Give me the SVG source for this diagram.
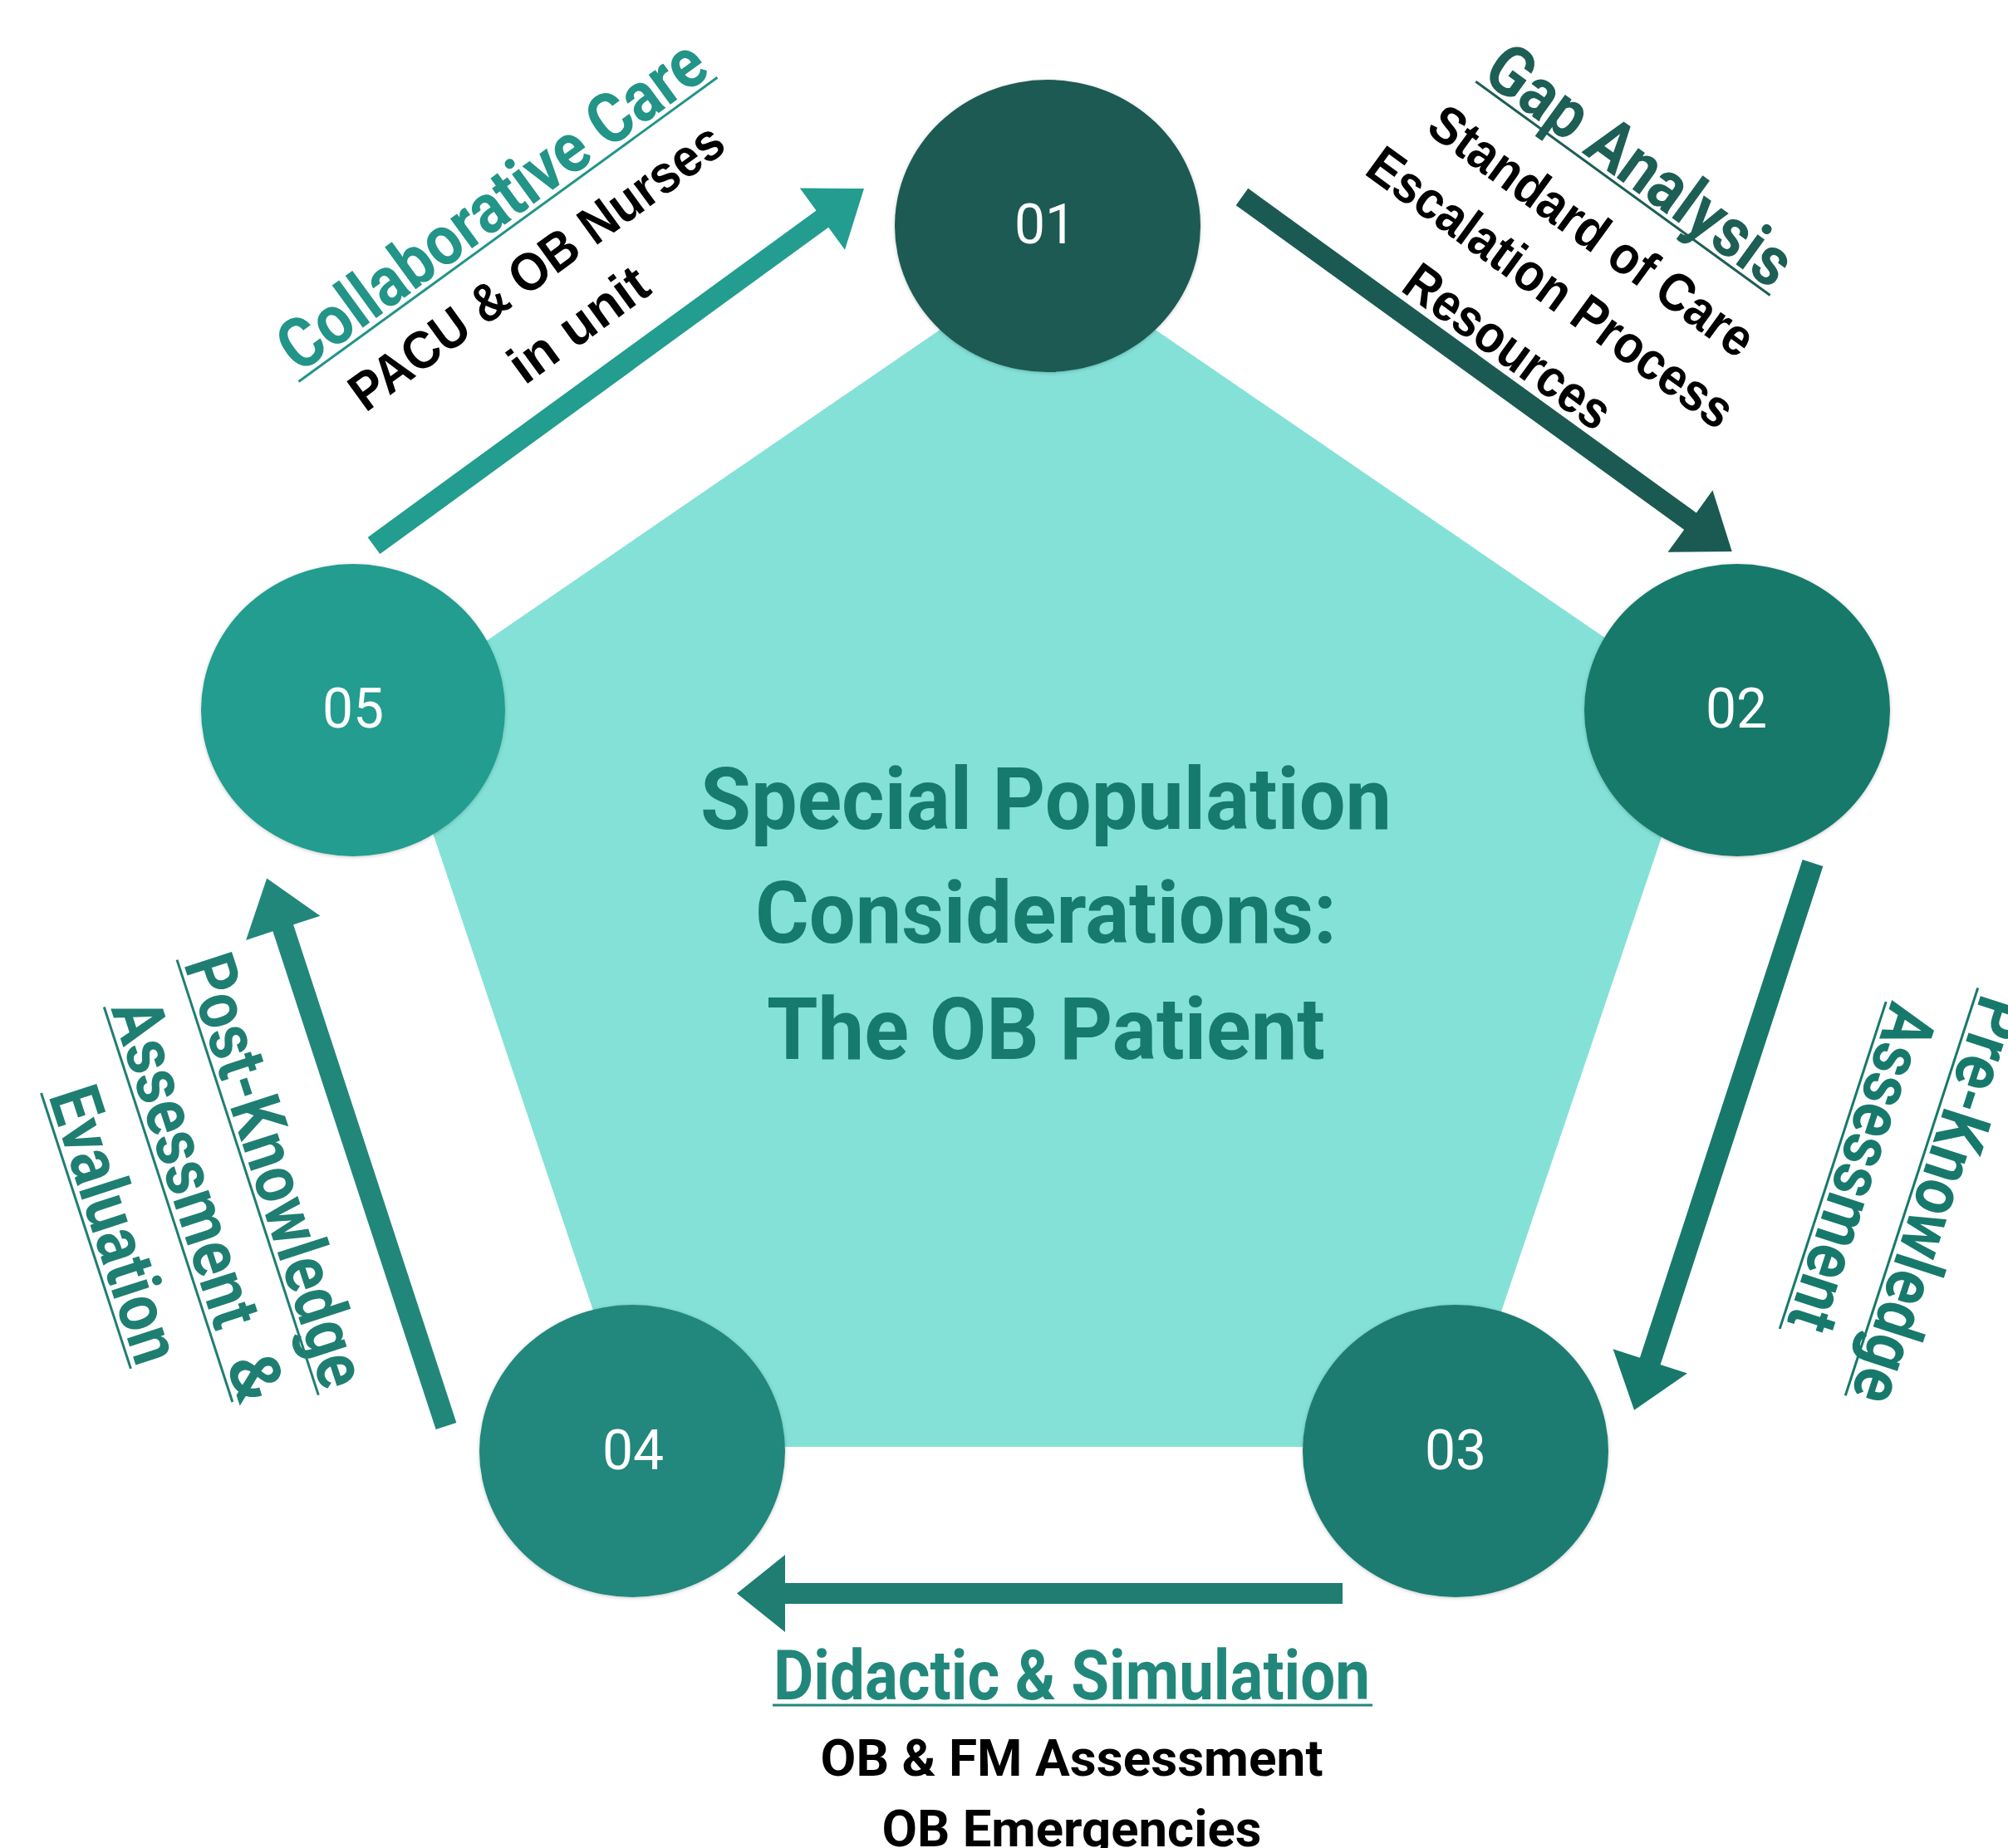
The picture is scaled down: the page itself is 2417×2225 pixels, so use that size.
<svg xmlns="http://www.w3.org/2000/svg" width="2417" height="2225" viewBox="0 0 2417 2225">
  <style>
    .num { font-family: Roboto, "Liberation Sans", sans-serif; font-size: 66px; fill: #ffffff; text-anchor: middle; }
    .title { font-family: Roboto, "Liberation Sans", sans-serif; font-weight: 700; font-size: 103px; fill: #167a6c; text-anchor: middle; }
    .glab { font-family: Roboto, "Liberation Sans", sans-serif; font-weight: 700; font-size: 84px; text-anchor: middle; }
    .blk { font-family: "Liberation Sans", Arial, sans-serif; font-weight: 700; font-size: 64px; fill: #000000; text-anchor: middle; }
    .blk2 { font-family: Roboto, "Liberation Sans", sans-serif; font-weight: 700; font-size: 62px; fill: #000000; text-anchor: middle; }
  </style>
  <defs>
    <filter id="sh" x="-10%" y="-10%" width="120%" height="120%">
      <feDropShadow dx="0" dy="1" stdDeviation="2" flood-color="#000000" flood-opacity="0.22"/>
    </filter>
  </defs>
  <rect width="2417" height="2225" fill="#ffffff"/>

  <g id="center">
    <polygon points="1261,308 2053,851 1752,1742 769,1742 470,851" fill="#84e1d7"/>
    <text class="title" x="1259" y="998" textLength="832" lengthAdjust="spacingAndGlyphs">Special Population</text>
    <text class="title" x="1259" y="1135" textLength="700" lengthAdjust="spacingAndGlyphs">Considerations:</text>
    <text class="title" x="1259" y="1275" textLength="672" lengthAdjust="spacingAndGlyphs">The OB Patient</text>
  </g>

  <g id="connectors">
    <path transform="translate(450,657) rotate(-36.08)" fill="#229d8f" d="M0,-12.5 H668 V-46 L730,0 L668,46 V12.5 H0 Z"/>
    <path transform="translate(1495,237) rotate(35.9)" fill="#1b5a52" d="M0,-12.5 H666 V-46 L728,0 L666,46 V12.5 H0 Z"/>
    <path transform="translate(2182,1039) rotate(108.07)" fill="#17796b" d="M0,-13 H631 V-47 L693,0 L631,47 V13 H0 Z"/>
    <path transform="translate(1616,1918.5) rotate(180)" fill="#1f7d71" d="M0,-12.5 H671 V-46.5 L729,0 L671,46.5 V12.5 H0 Z"/>
    <path transform="translate(537,1717) rotate(-108.12)" fill="#22877b" d="M0,-13 H631 V-47 L694,0 L631,47 V13 H0 Z"/>
  </g>

  <g id="node-01">
    <ellipse cx="1261" cy="272" rx="184" ry="176" fill="#1b5a52" filter="url(#sh)"/>
    <text class="num" x="1258" y="293">01</text>
  </g>
  <g id="node-02">
    <ellipse cx="2091" cy="855" rx="184" ry="176" fill="#17796b" filter="url(#sh)"/>
    <text class="num" x="2090" y="876">02</text>
  </g>
  <g id="node-03">
    <ellipse cx="1752" cy="1747" rx="184" ry="176" fill="#1f7c71" filter="url(#sh)"/>
    <text class="num" x="1752" y="1769">03</text>
  </g>
  <g id="node-04">
    <ellipse cx="761" cy="1747" rx="184" ry="176" fill="#22877b" filter="url(#sh)"/>
    <text class="num" x="762" y="1769">04</text>
  </g>
  <g id="node-05">
    <ellipse cx="425" cy="855" rx="183" ry="176" fill="#229d8f" filter="url(#sh)"/>
    <text class="num" x="425" y="876">05</text>
  </g>

  <g id="label-collaborative" transform="translate(645,320) rotate(-36)">
    <text class="glab" x="0" y="-62" fill="#229488" textLength="615" lengthAdjust="spacingAndGlyphs">Collaborative Care</text>
    <line x1="-313" y1="-55" x2="310" y2="-55" stroke="#229488" stroke-width="3"/>
    <text class="blk" x="0" y="23" textLength="540" lengthAdjust="spacingAndGlyphs">PACU &amp; OB Nurses</text>
    <text class="blk" x="0" y="109" textLength="192" lengthAdjust="spacingAndGlyphs">in unit</text>
  </g>

  <g id="label-gap" transform="translate(1917,277) rotate(36)">
    <text class="glab" x="0" y="-68" fill="#1d5e55" textLength="434" lengthAdjust="spacingAndGlyphs">Gap Analysis</text>
    <line x1="-219" y1="-62" x2="219" y2="-62" stroke="#1d5e55" stroke-width="3"/>
    <text class="blk" x="0" y="23" textLength="467" lengthAdjust="spacingAndGlyphs">Standard of Care</text>
    <text class="blk" x="0" y="107" textLength="528" lengthAdjust="spacingAndGlyphs">Escalation Process</text>
    <text class="blk" x="0" y="195" textLength="292" lengthAdjust="spacingAndGlyphs">Resources</text>
  </g>

  <g id="label-pre" transform="translate(2235,1405) rotate(108)">
    <text class="glab" x="8" y="-78" fill="#17796b" textLength="509" lengthAdjust="spacingAndGlyphs">Pre-Knowledge</text>
    <line x1="-250" y1="-72" x2="266" y2="-72" stroke="#17796b" stroke-width="3"/>
    <text class="glab" x="0" y="22" fill="#17796b" textLength="409" lengthAdjust="spacingAndGlyphs">Assessment</text>
    <line x1="-200" y1="28" x2="214" y2="28" stroke="#17796b" stroke-width="3"/>
  </g>

  <g id="label-post" transform="translate(232,1447) rotate(72)">
    <text class="glab" x="-5" y="-78" fill="#1f7e72" textLength="543" lengthAdjust="spacingAndGlyphs">Post-Knowledge</text>
    <line x1="-283" y1="-72" x2="268" y2="-72" stroke="#1f7e72" stroke-width="3"/>
    <text class="glab" y="22" fill="#1f7e72" style="text-anchor:start"><tspan x="-252" textLength="410" lengthAdjust="spacingAndGlyphs">Assessment</tspan><tspan x="176"> &amp;</tspan></text>
    <line x1="-256" y1="29" x2="244" y2="29" stroke="#1f7e72" stroke-width="3"/>
    <text class="glab" x="-3" y="126" fill="#1f7e72" textLength="345" lengthAdjust="spacingAndGlyphs">Evaluation</text>
    <line x1="-181" y1="133" x2="168" y2="133" stroke="#1f7e72" stroke-width="3"/>
  </g>

  <g id="label-didactic">
    <text class="glab" x="1290" y="2046" fill="#22877b" font-size="80" textLength="718" lengthAdjust="spacingAndGlyphs">Didactic &amp; Simulation</text>
    <line x1="930" y1="2053" x2="1652" y2="2053" stroke="#22877b" stroke-width="3"/>
    <text class="blk2" x="1290" y="2138" textLength="605" lengthAdjust="spacingAndGlyphs">OB &amp; FM Assessment</text>
    <text class="blk2" x="1290" y="2223" textLength="457" lengthAdjust="spacingAndGlyphs">OB Emergencies</text>
  </g>
</svg>
